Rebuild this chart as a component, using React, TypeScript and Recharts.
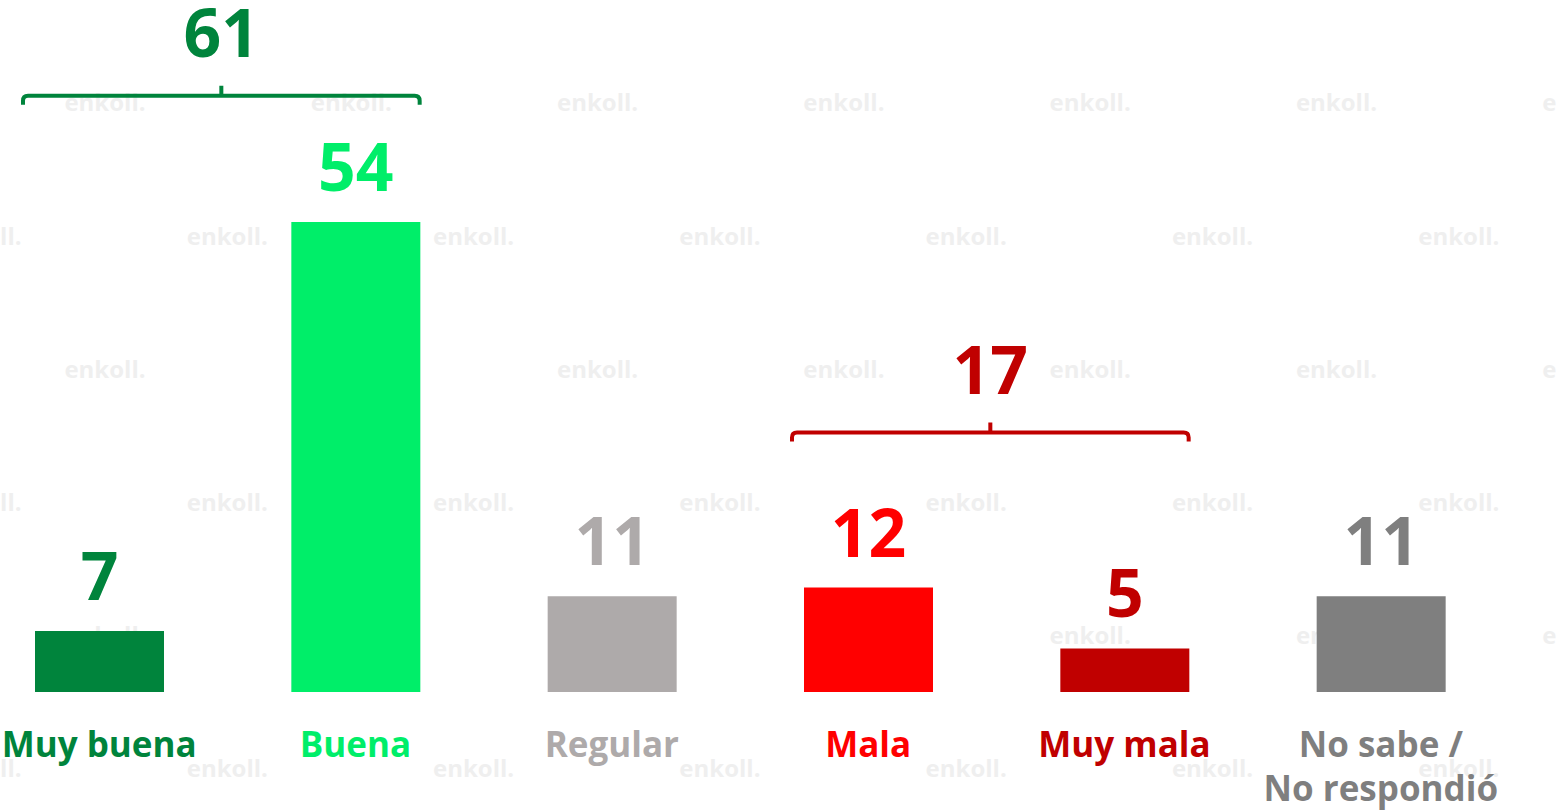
import React from 'react';
import { BarChart, Bar, XAxis, YAxis, Cell, LabelList, ReferenceArea } from 'recharts';

const CATEGORIES = ['Muy buena', 'Buena', 'Regular', 'Mala', 'Muy mala', 'No sabe / No respondió'];
const VALUES = [7, 54, 11, 12, 5, 11];
const BAR_COLORS = ['#00843C', '#00EE69', '#AEAAAA', '#FF0000', '#C00000', '#7F7F7F'];
const TICK_LINES = [['Muy buena'], ['Buena'], ['Regular'], ['Mala'], ['Muy mala'], ['No sabe /', 'No respondió']];

// grouped totals drawn as brackets
const GROUP_FROM = ['Muy buena', 'Mala'];
const GROUP_TO = ['Buena', 'Muy mala'];
const GROUP_TOTALS = [61, 17];
const GROUP_COLORS = ['#00843C', '#C00000'];
const GROUP_LEVELS = [68.5, 29.8];

const FONT = '"Open Sans", sans-serif';

const data = CATEGORIES.map((name, i) => ({ name, value: VALUES[i] }));

function Watermark() {
    const marks: React.ReactNode[] = [];
    const rows = [102, 236, 369, 502, 635, 768];
    rows.forEach((y, r) => {
        const start = r % 2 === 0 ? 105 : -19;
        for (let k = 0; k < 8; k++) {
            const x = start + k * 246.3;
            marks.push(
                <div key={`${r}-${k}`} style={{
                    position: 'absolute', left: x - 50, top: y - 17, width: 100, textAlign: 'center',
                    fontFamily: FONT, fontWeight: 700, fontSize: 24, color: '#EFEFEF', lineHeight: '34px',
                }}>
                    enkoll.
                </div>,
            );
        }
    });
    return <div style={{ position: 'absolute', left: 0, top: 0, width: 1557, height: 811, overflow: 'hidden' }}>{marks}</div>;
}

const CategoryTick = (props: any) => {
    const { x, y, index } = props;
    const lines = TICK_LINES[index] || [];
    const color = BAR_COLORS[index];
    return (
        <text x={x} y={y + 57} textAnchor="middle" fill={color} fontFamily={FONT} fontWeight={700} fontSize={35}>
            {lines.map((l: string, i: number) => (
                <tspan key={i} x={x} dy={i === 0 ? 0 : 44}>{l}</tspan>
            ))}
        </text>
    );
};

const ValueLabel = (props: any) => {
    const { x, y, width, value, index } = props;
    return (
        <text x={x + width / 2} y={y - 31} textAnchor="middle" fill={BAR_COLORS[index]}
            fontFamily={FONT} fontWeight={700} fontSize={66}>
            {value}
        </text>
    );
};

const makeBracket = (i: number) => (props: any) => {
    const { x, y, width } = props;
    const x1 = x + 52;
    const x2 = x + width - 64;
    const cx = (x1 + x2) / 2;
    const r = 5;
    const color = GROUP_COLORS[i];
    return (
        <g>
            <path
                d={`M${x1},${y + 9} L${x1},${y + r} Q${x1},${y} ${x1 + r},${y} L${x2 - r},${y} Q${x2},${y} ${x2},${y + r} L${x2},${y + 9} M${cx},${y} L${cx},${y - 10}`}
                fill="none" stroke={color} strokeWidth={4} />
            <text x={cx} y={y - 39} textAnchor="middle" fill={color} fontFamily={FONT} fontWeight={700} fontSize={66}>
                {GROUP_TOTALS[i]}
            </text>
        </g>
    );
};

export default function App() {
    return (
        <div style={{ position: 'absolute', left: 0, top: 0, width: 1557, height: 811, background: '#fff', overflow: 'hidden' }}>
            <Watermark />
            <div style={{ position: 'absolute', left: -29, top: 0 }}>
                <BarChart width={1538} height={811} data={data} margin={{ top: 0, right: 0, left: 0, bottom: 0 }} barSize={129}>
                    <XAxis dataKey="name" axisLine={false} tickLine={false} height={119} interval={0} tick={<CategoryTick />} />
                    <YAxis hide domain={[0, 79.5]} />
                    {GROUP_TOTALS.map((_, i) => (
                        <ReferenceArea key={i} x1={GROUP_FROM[i]} x2={GROUP_TO[i]} y1={GROUP_LEVELS[i] - 1} y2={GROUP_LEVELS[i]}
                            shape={makeBracket(i)} ifOverflow="visible" />
                    ))}
                    <Bar dataKey="value" isAnimationActive={false}>
                        {data.map((d, i) => <Cell key={d.name} fill={BAR_COLORS[i]} />)}
                        <LabelList dataKey="value" content={<ValueLabel />} />
                    </Bar>
                </BarChart>
            </div>
        </div>
    );
}
